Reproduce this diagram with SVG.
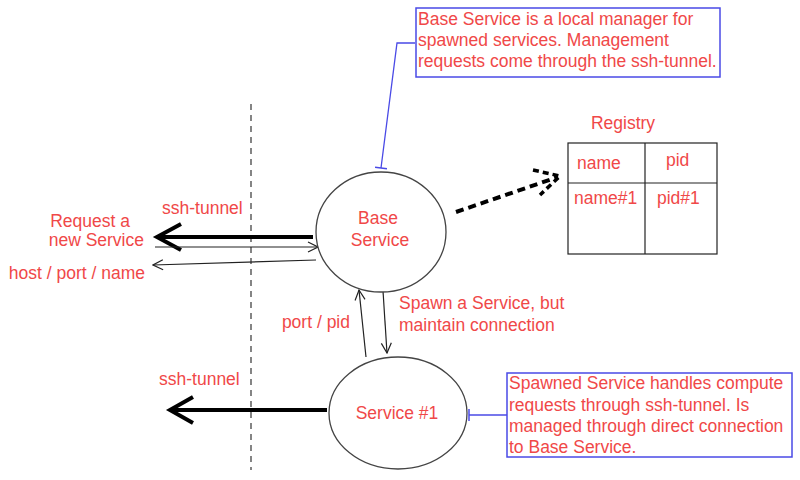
<svg xmlns="http://www.w3.org/2000/svg" width="800" height="480" viewBox="0 0 800 480">
<defs>
<style>
text{font-family:"Liberation Sans",Arial,sans-serif;font-size:17.5px;fill:#f04848}
.node{fill:#fff;stroke:#444;stroke-width:1.3}
.thin{stroke:#222;stroke-width:1.2;fill:none}
.thick{stroke:#000;stroke-width:4;fill:none}
.call{stroke:#4a4ae6;stroke-width:1.3;fill:none}
.box{fill:#fff;stroke:#4a4ae6;stroke-width:1.5}
</style>
<marker id="ah" viewBox="0 0 12 12" refX="11" refY="6" markerWidth="12" markerHeight="12" markerUnits="userSpaceOnUse" orient="auto"><path d="M1,1 L11,6 L1,11" fill="none" stroke="#222" stroke-width="1.2"/></marker>
<marker id="tee" viewBox="0 0 4 12" refX="2" refY="6" markerWidth="4" markerHeight="12" markerUnits="userSpaceOnUse" orient="auto"><path d="M2,0 L2,12" stroke="#4a4ae6" stroke-width="1.5"/></marker>
</defs>
<rect width="800" height="480" fill="#fff"/>
<line x1="251" y1="104" x2="251" y2="470" stroke="#444" stroke-width="1.3" stroke-dasharray="6,5"/>
<g id="connectors">
<line class="thick" x1="313" y1="237" x2="158" y2="237"/>
<path class="thick" d="M181,224 L157,237 L181,250" stroke-width="3"/>
<line class="thin" x1="155" y1="247" x2="318" y2="247" marker-end="url(#ah)"/>
<line class="thin" x1="316" y1="260" x2="153" y2="265" marker-end="url(#ah)"/>
<line class="thick" x1="327" y1="410" x2="170" y2="410" stroke-width="3"/>
<path class="thick" d="M193,397 L170,410 L193,423" stroke-width="2.5"/>
<line class="thin" x1="366" y1="357" x2="359" y2="290" marker-end="url(#ah)"/>
<line class="thin" x1="383" y1="291" x2="387" y2="353" marker-end="url(#ah)"/>
<line x1="456" y1="212" x2="558" y2="177" stroke="#000" stroke-width="4" stroke-dasharray="8,5"/>
<path d="M533,170 L560,176 L540,195" fill="none" stroke="#000" stroke-width="3.5" stroke-dasharray="6,4"/>
<polyline class="call" points="415,43 397,43 381,168" marker-end="url(#tee)"/>
<line class="call" x1="507" y1="415" x2="469" y2="415" marker-end="url(#tee)"/>
</g>
<g id="base-service">
<ellipse class="node" cx="381" cy="232" rx="65" ry="60"/>
<text x="378" y="224" text-anchor="middle">Base</text>
<text x="380" y="246" text-anchor="middle">Service</text>
</g>
<g id="service-1">
<ellipse class="node" cx="398" cy="413" rx="69" ry="56"/>
<text x="397" y="419" text-anchor="middle">Service #1</text>
</g>
<g id="registry">
<text x="623" y="129" text-anchor="middle">Registry</text>
<rect x="568" y="143" width="149" height="111" fill="#fff" stroke="#222" stroke-width="1.2"/>
<line x1="568" y1="183" x2="717" y2="183" stroke="#222" stroke-width="1.2"/>
<line x1="645" y1="143" x2="645" y2="254" stroke="#222" stroke-width="1.2"/>
<text x="577" y="169">name</text>
<text x="666" y="166">pid</text>
<text x="574" y="204">name#1</text>
<text x="657" y="204">pid#1</text>
</g>
<g id="note-base">
<rect class="box" x="416" y="8" width="304" height="69"/>
<text x="418" y="25">Base Service is a local manager for</text>
<text x="418" y="46">spawned services. Management</text>
<text x="418" y="67">requests come through the ssh-tunnel.</text>
</g>
<g id="note-spawned">
<rect class="box" x="507" y="373" width="285" height="84"/>
<text x="509" y="389">Spawned Service handles compute</text>
<text x="509" y="411">requests through ssh-tunnel. Is</text>
<text x="509" y="432">managed through direct connection</text>
<text x="509" y="453">to Base Service.</text>
</g>
<g id="labels">
<text x="162" y="214">ssh-tunnel</text>
<text x="130" y="227" text-anchor="end">Request a</text>
<text x="144" y="246" text-anchor="end">new Service</text>
<text x="145" y="279" text-anchor="end">host / port / name</text>
<text x="159" y="385">ssh-tunnel</text>
<text x="350" y="328" text-anchor="end">port / pid</text>
<text x="399" y="309">Spawn a Service, but</text>
<text x="399" y="331">maintain connection</text>
</g>
</svg>
